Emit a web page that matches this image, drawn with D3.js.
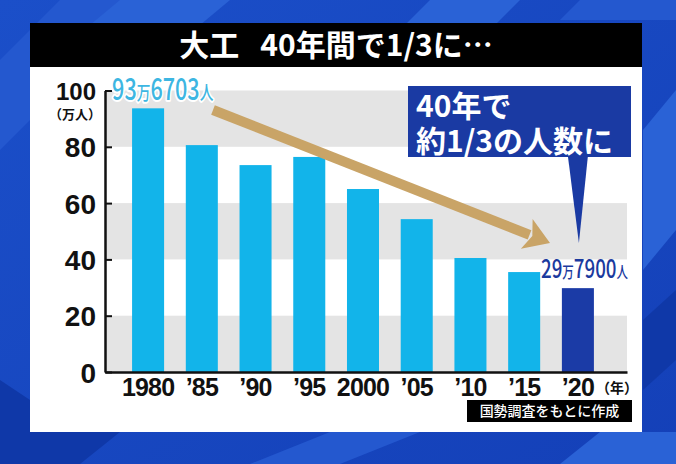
<!DOCTYPE html>
<html><head><meta charset="utf-8">
<script src="https://cdn.jsdelivr.net/npm/d3@7"></script>
<style>
html,body{margin:0;padding:0;background:#1a48c2;overflow:hidden}
svg{display:block}
</style></head>
<body>
<script>
const years = ["1980","’85","’90","’95","2000","’05","’10","’15","’20"];
const values = [93.67, 80.6, 73.5, 76.4, 65.0, 54.3, 40.5, 35.5, 29.79];
const yTicks = [0,20,40,60,80,100];
const bandStops = [[0,20],[40,60],[80,100]];
const title = "大工\u2002\u200940年間で1/3に…";
const calloutLines = ["40年で","約1/3の人数に"];
const firstLabel = ["93","万","6703","人"];
const lastLabel = ["29","万","7900","人"];
const sourceText = "国勢調査をもとに作成";

const W = 676, H = 464;
const svg = d3.select("body").append("svg").attr("width", W).attr("height", H);

// background
const defs = svg.append("defs");
const g1 = defs.append("linearGradient").attr("id","bg").attr("x1","0").attr("y1","0").attr("x2","1").attr("y2","1");
g1.append("stop").attr("offset","0").attr("stop-color","#1b4fc9");
g1.append("stop").attr("offset","1").attr("stop-color","#1440b8");
svg.append("rect").attr("width",W).attr("height",H).attr("fill","url(#bg)");
const stripes = [
  {pts:[[0,60],[0,150],[150,0],[60,0]], c:"#2458cf"},
  {pts:[[120,0],[230,0],[200,25],[90,25]], c:"#2a62d6"},
  {pts:[[430,0],[520,0],[495,25],[405,25]], c:"#2a62d6"},
  {pts:[[580,0],[676,0],[676,20],[560,20]], c:"#2458cf"},
  {pts:[[643,130],[676,90],[676,230],[643,270]], c:"#2a62d6"},
  {pts:[[643,320],[676,290],[676,360],[643,390]], c:"#0f38a8"},
  {pts:[[0,380],[0,464],[80,464],[120,432],[40,432],[30,400]], c:"#0f38a8"},
  {pts:[[250,464],[330,432],[420,432],[340,464]], c:"#2458cf"},
  {pts:[[560,464],[600,432],[676,432],[676,464]], c:"#2a62d6"}
];
svg.selectAll("polygon.stripe").data(stripes).join("polygon").attr("class","stripe")
  .attr("points", d => d.pts.map(p=>p.join(",")).join(" ")).attr("fill", d=>d.c);

// panel
svg.append("rect").attr("x",30).attr("y",23).attr("width",612).attr("height",44).attr("fill","#000");
svg.append("rect").attr("x",30).attr("y",67).attr("width",612).attr("height",365).attr("fill","#fff");
svg.append("text").attr("x",336).attr("y",56).attr("text-anchor","middle")
  .attr("font-family","'Noto Sans CJK JP'").attr("font-weight",700).attr("font-size",30)
  .attr("fill","#fff").text(title);

// scales
const x = d3.scaleBand().domain(years).range([105,627]).paddingInner(0.404).paddingOuter(0.56).align(0.45);
const y = d3.scaleLinear().domain([0,100]).range([372,90.5]);

// bands
svg.selectAll("rect.band").data(bandStops).join("rect").attr("class","band")
  .attr("x",105).attr("width",522)
  .attr("y", d=>y(d[1])).attr("height", d=>y(d[0])-y(d[1])).attr("fill","#e4e4e4");

// bars
svg.selectAll("rect.bar").data(values).join("rect").attr("class","bar")
  .attr("x",(d,i)=>x(years[i])).attr("width",x.bandwidth())
  .attr("y",d=>y(d)).attr("height",d=>y(0)-y(d))
  .attr("fill",(d,i)=> i===values.length-1 ? "#1b3ba6" : "#12b4ea");

// axes
const yAxis = svg.append("g").attr("transform","translate(105,0)")
  .call(d3.axisLeft(y).tickValues(yTicks).tickSizeInner(-7).tickSizeOuter(0).tickPadding(9));
yAxis.select(".domain").attr("stroke","#111").attr("stroke-width",2.5);
yAxis.selectAll(".tick line").attr("stroke","#111").attr("stroke-width",2);
yAxis.selectAll(".tick text").attr("font-family","'Liberation Sans',Arial,sans-serif")
  .attr("font-weight",700).attr("font-size",d=> d===100 ? 24 : 28).attr("fill","#111").attr("dy","0.36em");

const xAxis = svg.append("g").attr("transform","translate(0,372)")
  .call(d3.axisBottom(x).tickSize(0).tickPadding(6));
xAxis.select(".domain").attr("stroke","#111").attr("stroke-width",2.5);
xAxis.selectAll(".tick text").attr("font-family","'Liberation Sans',Arial,sans-serif")
  .attr("font-weight",700).attr("font-size",25).attr("letter-spacing","-0.8").attr("fill","#111");

svg.append("text").attr("x",75).attr("y",119).attr("text-anchor","middle")
  .attr("font-family","'Noto Sans CJK JP'").attr("font-weight",700).attr("font-size",13)
  .attr("fill","#111").text("（万人）");
svg.append("text").attr("x",x("’20")+x.bandwidth()+2).attr("y",393)
  .attr("font-family","'Noto Sans CJK JP'").attr("font-weight",700).attr("font-size",14)
  .attr("fill","#111").text("（年）");

// arrow
const x0 = x(years[0]) + x.bandwidth()/2, xN = x(years[8]) + x.bandwidth()/2;
const p0 = [213, 110], p1 = [550, 243];
const ang = Math.atan2(p1[1]-p0[1], p1[0]-p0[0]);
const headLen = 25, headW = 16;
const bx = p1[0]-headLen*Math.cos(ang), by = p1[1]-headLen*Math.sin(ang);
svg.append("line").attr("x1",p0[0]).attr("y1",p0[1]).attr("x2",bx+3*Math.cos(ang)).attr("y2",by+3*Math.sin(ang))
  .attr("stroke","#c9a467").attr("stroke-width",10);
const nx = -Math.sin(ang), ny = Math.cos(ang);
svg.append("polygon").attr("fill","#c9a467")
  .attr("points",[[p1[0],p1[1]],[bx+nx*headW,by+ny*headW],[bx+6*Math.cos(ang),by+6*Math.sin(ang)],[bx-nx*headW,by-ny*headW]].map(p=>p.join(",")).join(" "));

// value labels
function mixedLabel(parts, px, py, color, size, small, stroke){
  const t = svg.append("text").attr("transform",`translate(${px},${py}) scale(0.72,1)`)
    .attr("font-family","'Noto Sans CJK JP'").attr("font-weight",500).attr("fill",color);
  if (stroke) t.attr("stroke","#fff").attr("stroke-width",4).attr("paint-order","stroke").attr("stroke-linejoin","round");
  parts.forEach((p,i)=>{
    t.append("tspan").attr("font-size", (i%2===1)? small : size).text(p);
  });
  return t;
}
mixedLabel(firstLabel, x0-36, 100, "#3db6e2", 30, 19, true);
mixedLabel(lastLabel, 541, 278, "#1b3a9e", 26, 16, false);

// callout
const cb = {x:408, y:86, w:223, h:71};
svg.append("rect").attr("x",cb.x).attr("y",cb.y).attr("width",cb.w).attr("height",cb.h).attr("fill","#1a3aa3");
svg.append("polygon").attr("fill","#1a3aa3")
  .attr("points",[[xN-10,cb.y+cb.h-1],[xN+10,cb.y+cb.h-1],[xN+1,243]].map(p=>p.join(",")).join(" "));
svg.selectAll("text.call").data(calloutLines).join("text").attr("class","call")
  .attr("x",416).attr("y",(d,i)=>117+i*35)
  .attr("font-family","'Noto Sans CJK JP'").attr("font-weight",700).attr("font-size",30)
  .attr("fill","#fff").text(d=>d);

// source
svg.append("rect").attr("x",467).attr("y",400).attr("width",165).attr("height",22).attr("fill","#000");
svg.append("text").attr("x",549.5).attr("y",416).attr("text-anchor","middle")
  .attr("font-family","'Noto Sans CJK JP'").attr("font-weight",500).attr("font-size",14)
  .attr("fill","#fff").text(sourceText);
</script>
</body></html>
